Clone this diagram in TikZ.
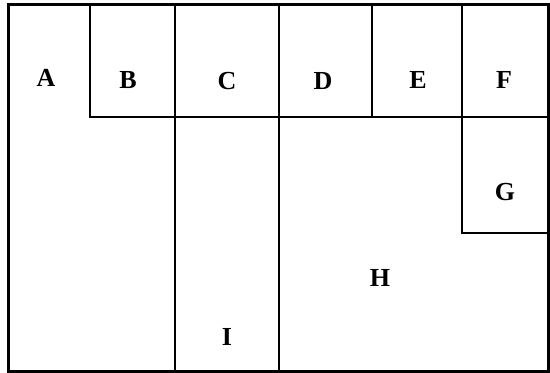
\documentclass[tikz,border=0pt]{standalone}
\usepackage{fontspec}
\setmainfont{Liberation Serif}
\usetikzlibrary{positioning}
\tikzset{
  outerline/.style={draw=black, line width=1.5pt},
  innerline/.style={draw=black, line width=1pt},
  roomlabel/.style={font=\fontsize{13}{15}\selectfont\bfseries, inner sep=0pt}
}

\begin{document}
\begin{tikzpicture}[x=0.5pt, y=-0.5pt]
\useasboundingbox (0,0) rectangle (550,373);
% outer frame
\draw[outerline] (8,5) rectangle (548,371);
% top row
\draw[innerline] (90,5) -- (90,117) -- (548,117);
\draw[innerline] (175,5) -- (175,371);
\draw[innerline] (279,5) -- (279,371);
\draw[innerline] (372,5) -- (372,117);
\draw[innerline] (462,5) -- (462,233) -- (548,233);
% labels
\node[roomlabel] (A) at (46,78) {A};
\node[roomlabel] (B) at (128,80) {B};
\node[roomlabel] (C) at (227,81) {C};
\node[roomlabel] (D) at (323,81) {D};
\node[roomlabel] (E) at (418,80) {E};
\node[roomlabel] (F) at (504,80) {F};
\node[roomlabel] (G) at (505,192) {G};
\node[roomlabel] (H) at (380,278) {H};
\node[roomlabel] (I) at (227,337) {I};
\end{tikzpicture}
\end{document}
